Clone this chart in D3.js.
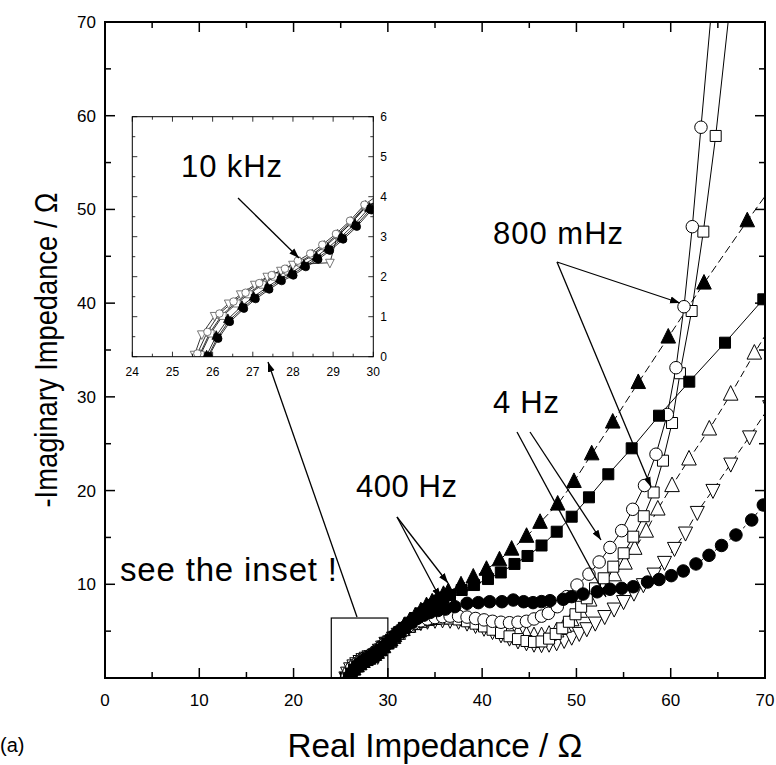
<!DOCTYPE html>
<html><head><meta charset="utf-8">
<script src="https://cdn.jsdelivr.net/npm/d3@7"></script>
<style>
html,body{margin:0;padding:0;background:#fff;}
svg{display:block;}
text{fill:#000;}
</style></head>
<body>
<svg id="c" width="776" height="765"></svg>
<script>
// ---------------- data ----------------
const xTicks = [0,10,20,30,40,50,60,70];
const yTicks = [10,20,30,40,50,60,70];
const insetXTicks = [24,25,26,27,28,29,30];
const insetYTicks = [0,1,2,3,4,5,6];

const filledSquare = [[25.89,0.02],[26.12,0.48],[26.41,0.9],[26.76,1.23],[27.05,1.47],[27.39,1.71],[27.70,1.92],[27.99,2.06],[28.30,2.27],[28.61,2.46],[28.90,2.68],[29.23,2.96],[29.57,3.28],[29.93,3.69],
 [30.3,4.0],[30.7,4.4],[31.2,4.9],[31.7,5.35],[32.3,5.9],[32.9,6.4],[33.5,6.9],[34.1,7.35],[34.7,7.8],[35.3,8.25],[35.9,8.55],[36.59,8.86],[37.83,9.39],[39.14,9.92],[40.62,10.56],[41.98,11.26],[43.43,12.17],[44.81,13.02],[46.3,14.14],[47.91,15.61],[49.5,17.21],[51.33,19.28],[53.38,21.74],[55.86,24.51],[58.76,27.99],[61.97,31.62],[65.76,35.78],[69.82,40.41],[73,44]];

const filledTriangle = [[25.85,0.03],[26.09,0.52],[26.38,0.94],[26.73,1.27],[27.02,1.5],[27.36,1.74],[27.67,1.95],[27.96,2.1],[28.27,2.3],[28.58,2.5],[28.87,2.72],[29.2,3.0],[29.54,3.32],[29.9,3.72],
 [30.3,4.05],[30.7,4.5],[31.2,5.0],[31.7,5.5],[32.3,6.05],[32.9,6.6],[33.5,7.15],[34.1,7.7],[34.7,8.1],[35.3,8.55],[35.9,8.9],[36.41,9.21],[37.76,9.92],[39.06,10.75],[40.46,11.58],[41.84,12.59],[43.13,13.73],[44.71,15.1],[46.14,16.59],[48.01,18.54],[49.74,20.95],[51.62,23.9],[53.85,27.29],[56.56,31.51],[59.74,36.36],[63.53,42.12],[68.12,48.77],[71.5,53.5]];

const filledCircle = [[25.9,0.0],[26.14,0.45],[26.43,0.87],[26.78,1.2],[27.07,1.44],[27.41,1.68],[27.72,1.89],[28.01,2.03],[28.32,2.24],[28.63,2.43],[28.92,2.65],[29.25,2.93],[29.59,3.25],[29.95,3.66],
 [30.3,3.95],[30.8,4.5],[31.3,5.0],[31.9,5.5],[32.5,5.95],[33.1,6.35],[33.8,6.7],[34.5,7.0],[35.3,7.2],[36.1,7.35],[37.1,7.61],[38.4,7.97],[39.6,8.04],[40.8,8.14],[42.1,8.14],[43.3,8.32],[44.4,8.14],[45.4,8.04],[46.3,8.15],[47.2,8.25],[48.6,8.4],[49.5,8.68],[50.7,8.96],[52.2,9.2],[53.56,9.47],[54.8,9.57],[56.03,9.74],[57.54,10.24],[58.76,10.51],[60.06,10.92],[61.33,11.42],[62.68,12.17],[64.06,13.09],[65.39,14.14],[66.92,15.26],[68.59,16.86],[69.82,18.46],[71,20]];

const openCircle = [[25.62,0.08],[25.87,0.62],[26.17,1.08],[26.52,1.38],[26.82,1.6],[27.16,1.84],[27.47,2.04],[27.8,2.2],[28.12,2.4],[28.43,2.58],[28.73,2.8],[29.07,3.07],[29.42,3.4],[29.78,3.8],
 [30.2,4.1],[30.6,4.45],[31.1,4.85],[31.6,5.2],[32.2,5.55],[32.8,5.85],[33.5,6.1],[34.2,6.3],[35,6.45],[35.8,6.55],[36.6,6.6],[37.5,6.6],[38.4,6.5],[39.3,6.35],[40.2,6.2],[41.1,6.05],[42,5.95],[42.9,5.9],[43.8,5.95],[44.7,6.05],[45.5,6.3],[46.3,6.6],[47.02,6.9],[47.97,7.61],[48.97,8.68],[50.06,9.92],[51.33,11.08],[52.41,12.38],[53.56,13.93],[54.8,15.72],[55.97,18.0],[57.22,20.54],[58.44,23.88],[59.64,28.12],[60.56,33.11],[61.41,39.62],[62.29,48.16],[63.21,58.77],[64.3,71]];

const openSquare = [[25.7,0.05],[25.95,0.58],[26.25,1.02],[26.6,1.33],[26.9,1.56],[27.24,1.8],[27.55,2.0],[27.87,2.15],[28.19,2.35],[28.5,2.54],[28.8,2.76],[29.13,3.04],[29.47,3.36],[29.83,3.76],
 [30.2,3.9],[30.6,4.3],[31.1,4.75],[31.6,5.1],[32.2,5.45],[32.8,5.75],[33.5,6.0],[34.2,6.2],[35,6.3],[35.8,6.35],[36.6,6.35],[37.5,6.25],[38.4,6.05],[39.3,5.8],[40.2,5.5],[41.1,5.15],[42,4.8],[42.9,4.45],[43.8,4.15],[44.7,3.95],[45.5,3.85],[46.3,3.9],[47.1,4.2],[47.8,4.7],[48.5,5.3],[49.2,6.0],[49.9,6.8],[50.5,7.6],[51.1,8.5],[51.97,9.57],[52.89,10.64],[53.91,11.88],[55.01,13.31],[56.03,15.08],[57.14,17.26],[58.19,19.8],[59.18,23.19],[60.14,27.21],[60.98,32.52],[62.22,39.16],[63.46,47.63],[64.77,57.84],[66.2,71]];

const openTriangleUp = [[25.68,0.06],[25.93,0.6],[26.23,1.04],[26.58,1.35],[26.88,1.58],[27.22,1.82],[27.53,2.02],[27.85,2.17],[28.17,2.37],[28.48,2.56],[28.78,2.78],[29.11,3.06],[29.45,3.38],[29.81,3.78],
 [30.2,3.9],[30.6,4.3],[31.1,4.75],[31.6,5.15],[32.2,5.5],[32.8,5.8],[33.5,6.05],[34.2,6.25],[35,6.4],[35.8,6.45],[36.6,6.45],[37.5,6.4],[38.4,6.25],[39.3,6.05],[40.2,5.8],[41.1,5.55],[42,5.3],[42.9,5.05],[43.8,4.8],[44.7,4.6],[45.5,4.5],[46.3,4.5],[47.1,4.65],[47.9,5.0],[48.7,5.5],[49.5,6.2],[50.4,7.1],[51.4,8.3],[52.68,9.82],[54.0,10.99],[55.15,12.24],[56.18,13.82],[57.4,15.65],[58.63,18.01],[60.14,20.51],[61.94,23.35],[64.09,26.55],[66.36,30.27],[68.87,34.65],[71.5,39]];

const openTriangleDown = [[25.55,0.05],[25.73,0.56],[26.05,1.02],[26.4,1.33],[26.7,1.56],[27.05,1.8],[27.36,2.0],[27.7,2.15],[28.0,2.3],[28.92,2.35],[29.1,3.0],[29.45,3.34],[29.8,3.74],
 [30.2,3.9],[30.6,4.3],[31.1,4.7],[31.6,5.05],[32.2,5.4],[32.8,5.7],[33.5,5.95],[34.2,6.1],[35,6.2],[35.8,6.25],[36.6,6.2],[37.5,6.1],[38.4,5.9],[39.3,5.65],[40.2,5.35],[41.1,5.0],[42,4.65],[42.9,4.3],[43.8,4.0],[44.7,3.8],[45.5,3.65],[46.3,3.6],[47.1,3.65],[47.9,3.8],[48.7,4.05],[49.5,4.4],[50.3,4.8],[51.1,5.3],[52.0,5.9],[53.0,6.6],[54.0,7.4],[55.0,8.2],[56.1,9.1],[57.1,10.0],[58.23,11.13],[59.34,12.38],[60.4,13.87],[61.57,15.51],[62.82,17.71],[64.48,20.06],[66.37,22.87],[68.36,25.77],[70.5,29]];

const series = [
  {name:"openTriangleDown", data:openTriangleDown, sym:"tdown", fill:"#fff", dash:"7,4"},
  {name:"openTriangleUp", data:openTriangleUp, sym:"tup", fill:"#fff", dash:"7,4"},
  {name:"openSquare", data:openSquare, sym:"square", fill:"#fff", dash:null},
  {name:"openCircle", data:openCircle, sym:"circle", fill:"#fff", dash:null},
  {name:"filledCircle", data:filledCircle, sym:"circle", fill:"#000", dash:"3,3"},
  {name:"filledSquare", data:filledSquare, sym:"square", fill:"#000", dash:null},
  {name:"filledTriangle", data:filledTriangle, sym:"tup", fill:"#000", dash:"8,4"}
];

const labels = [
  {text:"800 mHz", x:493, y:244, w:130, fs:31},
  {text:"4 Hz", x:493, y:413, w:66, fs:31},
  {text:"400 Hz", x:356, y:497, w:101, fs:31},
  {text:"see the inset !", x:120, y:581, w:217, fs:33}
];

// ---------------- drawing ----------------
const svg = d3.select("#c");
const M = {l:105, r:765, t:22, b:678};
const x = d3.scaleLinear().domain([0,70]).range([M.l, M.r]);
const y = d3.scaleLinear().domain([0,70]).range([M.b, M.t]);

const narrow = "'Liberation Sans Narrow','Arial Narrow','Liberation Sans',Arial,sans-serif";
const regular = "'Liberation Sans',Arial,Helvetica,sans-serif";

function symPath(sym, size){
  const h = size/2;
  if(sym==="circle"){ return d3.symbol(d3.symbolCircle, Math.PI*h*h)(); }
  if(sym==="square"){ return `M${-h},${-h}H${h}V${h}H${-h}Z`; }
  if(sym==="tup"){ const s=size*1.08; return `M0,${-s*0.6}L${s/2},${s*0.4}L${-s/2},${s*0.4}Z`; }
  if(sym==="tdown"){ const s=size*1.08; return `M0,${s*0.6}L${s/2},${-s*0.4}L${-s/2},${-s*0.4}Z`; }
}
const symSize = {circle:12.5, square:11, tup:13.5, tdown:13};

const defs = svg.append("defs");
defs.append("clipPath").attr("id","clipMain")
  .append("rect").attr("x",M.l).attr("y",M.t).attr("width",M.r-M.l).attr("height",M.b-M.t);

const plot = svg.append("g").attr("clip-path","url(#clipMain)");
const line = d3.line().x(d=>x(d[0])).y(d=>y(d[1]));

series.forEach(s=>{
  plot.append("path").attr("d", line(s.data)).attr("fill","none").attr("stroke","#000")
    .attr("stroke-width",1).attr("stroke-dasharray", s.dash);
});
series.forEach(s=>{
  plot.append("g").selectAll("path").data(s.data).join("path")
    .attr("transform", d=>`translate(${x(d[0])},${y(d[1])})`)
    .attr("d", symPath(s.sym, symSize[s.sym]))
    .attr("fill", s.fill).attr("stroke","#000").attr("stroke-width",1);
});

// main axes (mirrored, inward ticks)
const axG = svg.append("g");
for(let v=5; v<70; v+=5){
  const L = v%10===0 ? 10 : 6;
  axG.append("line").attr("x1",x(v)).attr("x2",x(v)).attr("y1",M.b).attr("y2",M.b-L).attr("stroke","#000").attr("stroke-width",1.5);
  axG.append("line").attr("x1",x(v)).attr("x2",x(v)).attr("y1",M.t).attr("y2",M.t+L).attr("stroke","#000").attr("stroke-width",1.5);
  axG.append("line").attr("y1",y(v)).attr("y2",y(v)).attr("x1",M.l).attr("x2",M.l+L).attr("stroke","#000").attr("stroke-width",1.5);
  axG.append("line").attr("y1",y(v)).attr("y2",y(v)).attr("x1",M.r).attr("x2",M.r-L).attr("stroke","#000").attr("stroke-width",1.5);
}
axG.append("rect").attr("x",M.l).attr("y",M.t).attr("width",M.r-M.l).attr("height",M.b-M.t)
  .attr("fill","none").attr("stroke","#000").attr("stroke-width",2);

svg.append("g").selectAll("text").data(xTicks).join("text")
  .attr("x",d=>x(d)).attr("y",706).attr("text-anchor","middle")
  .attr("font-family",narrow).attr("font-size",17).text(d=>d);
svg.append("g").selectAll("text").data(yTicks).join("text")
  .attr("x",96).attr("y",d=>y(d)+6).attr("text-anchor","end")
  .attr("font-family",narrow).attr("font-size",17).text(d=>d);

svg.append("text").attr("x",435).attr("y",757).attr("text-anchor","middle")
  .attr("font-family",narrow).attr("font-size",34).attr("textLength",295).attr("lengthAdjust","spacingAndGlyphs")
  .text("Real Impedance / Ω");
svg.append("text").attr("transform","translate(57,350) rotate(-90)").attr("text-anchor","middle")
  .attr("font-family",narrow).attr("font-size",32).attr("textLength",315).attr("lengthAdjust","spacingAndGlyphs")
  .text("-Imaginary Impedance / Ω");
svg.append("text").attr("x",0).attr("y",752).attr("font-family",narrow).attr("font-size",20).text("(a)");

svg.append("g").selectAll("text").data(labels).join("text")
  .attr("x",d=>d.x).attr("y",d=>d.y).attr("font-family",regular).attr("font-size",d=>d.fs)
  .attr("textLength",d=>d.w).attr("lengthAdjust","spacing").text(d=>d.text);

defs.append("marker").attr("id","ah").attr("viewBox","0 0 10 10").attr("refX",10).attr("refY",5)
  .attr("markerWidth",10).attr("markerHeight",10).attr("markerUnits","userSpaceOnUse").attr("orient","auto")
  .append("path").attr("d","M0,1.5L10,5L0,8.5Z").attr("fill","#000");
const arrows = [
  {x1:557,y1:262,x2:680,y2:303},
  {x1:557,y1:262,x2:651,y2:487},
  {x1:530,y1:432,x2:601,y2:540},
  {x1:517,y1:432,x2:606,y2:597},
  {x1:397,y1:517,x2:448,y2:583},
  {x1:397,y1:517,x2:440,y2:598},
  {x1:357,y1:617,x2:268,y2:362}
];
svg.append("g").selectAll("line").data(arrows).join("line")
  .attr("x1",d=>d.x1).attr("y1",d=>d.y1).attr("x2",d=>d.x2).attr("y2",d=>d.y2)
  .attr("stroke","#000").attr("stroke-width",1.3).attr("marker-end","url(#ah)");

svg.append("rect").attr("x",x(24)).attr("y",y(6.4)).attr("width",x(30)-x(24)).attr("height",y(0)-y(6.4))
  .attr("fill","none").attr("stroke","#000").attr("stroke-width",1.2);

// ---------------- inset ----------------
const I = {l:132.3, r:373.3, t:116.7, b:356.7};
const ix = d3.scaleLinear().domain([24,30]).range([I.l, I.r]);
const iy = d3.scaleLinear().domain([0,6]).range([I.b, I.t]);
defs.append("clipPath").attr("id","clipInset").append("rect")
  .attr("x",I.l).attr("y",I.t).attr("width",I.r-I.l).attr("height",I.b-I.t);
const ig = svg.append("g");
ig.append("rect").attr("x",I.l).attr("y",I.t).attr("width",I.r-I.l).attr("height",I.b-I.t).attr("fill","#fff");
const ip = ig.append("g").attr("clip-path","url(#clipInset)");
const iline = d3.line().x(d=>ix(d[0])).y(d=>iy(d[1]));
series.forEach(s=>{
  ip.append("path").attr("d", iline(s.data)).attr("fill","none").attr("stroke","#000").attr("stroke-width",0.8);
});
const iSize = {circle:7.5, square:7, tup:8, tdown:8};
series.forEach(s=>{
  ip.append("g").selectAll("path").data(s.data.filter(d=>d[0]<=30.6)).join("path")
    .attr("transform", d=>`translate(${ix(d[0])},${iy(d[1])})`)
    .attr("d", symPath(s.sym, iSize[s.sym]))
    .attr("fill", s.fill).attr("stroke", s.fill==="#fff"?"#555":"#000").attr("stroke-width",0.8);
});
for(let v=24; v<=30.001; v+=0.5){
  const L = Math.abs(v-Math.round(v))<1e-6 ? 5 : 3;
  ig.append("line").attr("x1",ix(v)).attr("x2",ix(v)).attr("y1",I.b).attr("y2",I.b-L).attr("stroke","#000").attr("stroke-width",0.8);
  ig.append("line").attr("x1",ix(v)).attr("x2",ix(v)).attr("y1",I.t).attr("y2",I.t+L).attr("stroke","#000").attr("stroke-width",0.8);
}
for(let v=0; v<=6.001; v+=0.5){
  const L = Math.abs(v-Math.round(v))<1e-6 ? 5 : 3;
  ig.append("line").attr("y1",iy(v)).attr("y2",iy(v)).attr("x1",I.l).attr("x2",I.l+L).attr("stroke","#000").attr("stroke-width",0.8);
  ig.append("line").attr("y1",iy(v)).attr("y2",iy(v)).attr("x1",I.r).attr("x2",I.r-L).attr("stroke","#000").attr("stroke-width",0.8);
}
ig.append("rect").attr("x",I.l).attr("y",I.t).attr("width",I.r-I.l).attr("height",I.b-I.t)
  .attr("fill","none").attr("stroke","#000").attr("stroke-width",1);
ig.append("g").selectAll("text").data(insetXTicks).join("text")
  .attr("x",d=>ix(d)).attr("y",I.b+19).attr("text-anchor","middle")
  .attr("font-family",regular).attr("font-size",12).text(d=>d);
ig.append("g").selectAll("text").data(insetYTicks).join("text")
  .attr("x",I.r+7).attr("y",d=>iy(d)+4).attr("text-anchor","start")
  .attr("font-family",regular).attr("font-size",12).text(d=>d);

ig.append("text").attr("x",181).attr("y",177).attr("font-family",regular).attr("font-size",31)
  .attr("textLength",101).attr("lengthAdjust","spacing").text("10 kHz");
ig.append("line").attr("x1",238).attr("y1",198).attr("x2",299).attr("y2",258)
  .attr("stroke","#000").attr("stroke-width",1.3).attr("marker-end","url(#ah)");
</script>
</body></html>
